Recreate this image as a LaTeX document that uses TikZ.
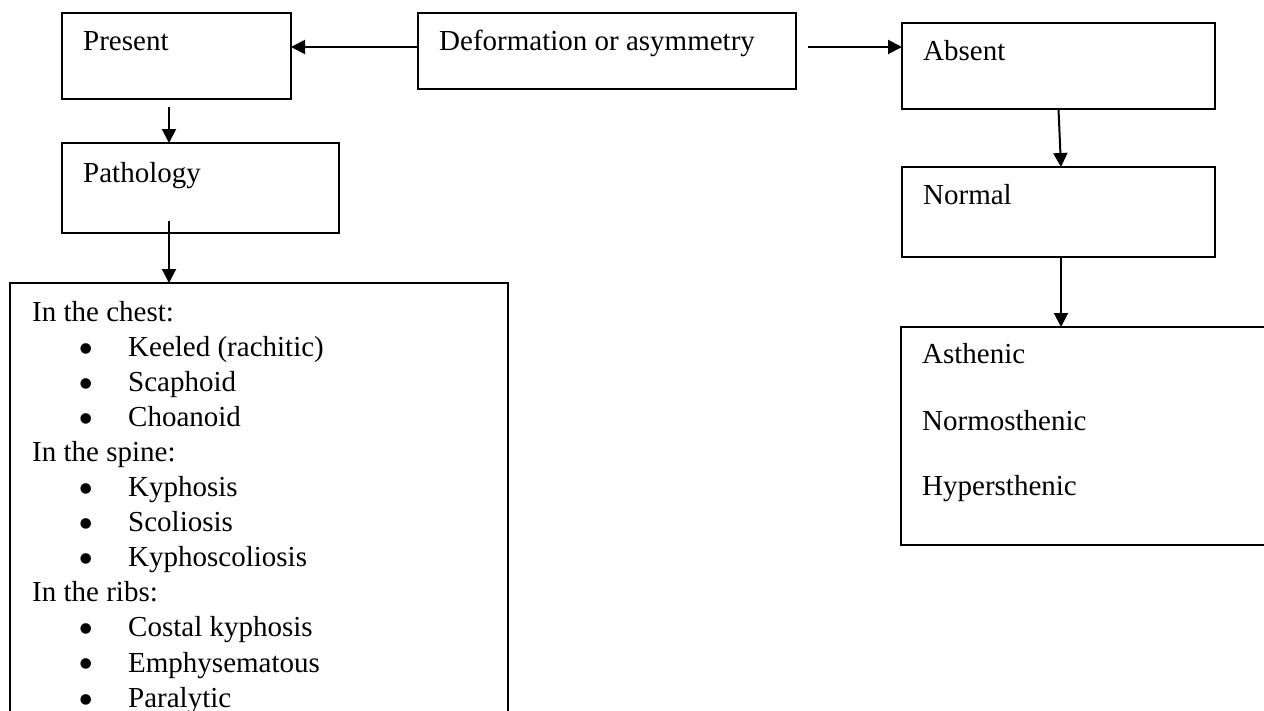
\documentclass[tikz,border=0pt]{standalone}
\usepackage{fontspec}
\setmainfont{Liberation Serif}
\usetikzlibrary{arrows.meta}
\begin{document}
\begin{tikzpicture}[x=1pt,y=-1pt,
  box/.style={draw, line width=1.8pt, inner sep=0pt, outer sep=0pt, anchor=north west},
  txt/.style={anchor=base west, inner sep=0pt, font=\fontsize{29}{35}\selectfont},
  bul/.style={anchor=north, inner sep=0pt, font=\fontsize{44}{44}\selectfont},
  arr/.style={line width=2pt, -{Triangle[length=14pt,width=14pt]}}]
\useasboundingbox (0,0) rectangle (1264,710);
\clip (0,0) rectangle (1264,710);
% boxes
\node[box, minimum width=229pt, minimum height=86pt] (present) at (62,13) {};
\node[box, minimum width=378pt, minimum height=76pt] (deform) at (418,13) {};
\node[box, minimum width=313pt, minimum height=86pt] (absent) at (902,23) {};
\node[box, minimum width=277pt, minimum height=90pt] (path) at (62,143) {};
\node[box, minimum width=313pt, minimum height=90pt] (normal) at (902,167) {};
\node[box, minimum width=498pt, minimum height=500pt] (list) at (10,283) {};
\node[box, minimum width=400pt, minimum height=218pt] (asth) at (901,327) {};
% box texts
\node[txt] (present-t) at (83,50) {Present};
\node[txt] (deform-t) at (439,50) {Deformation or asymmetry};
\node[txt] (absent-t) at (923,60) {Absent};
\node[txt] (path-t) at (83,182) {Pathology};
\node[txt] (normal-t) at (923,204) {Normal};
\node[txt] (asth-a) at (922,363) {Asthenic};
\node[txt] (asth-n) at (922,430) {Normosthenic};
\node[txt] (asth-h) at (922,495) {Hypersthenic};
% list
\node[txt] (h1) at (32,321.0) {In the chest:};
\node[bul] (b1) at (86,343.0) {\textbullet};
\node[txt] (i1) at (128,356.1) {Keeled (rachitic)};
\node[bul] (b2) at (86,378.1) {\textbullet};
\node[txt] (i2) at (128,391.2) {Scaphoid};
\node[bul] (b3) at (86,413.2) {\textbullet};
\node[txt] (i3) at (128,426.3) {Choanoid};
\node[txt] (h2) at (32,461.4) {In the spine:};
\node[bul] (b4) at (86,483.4) {\textbullet};
\node[txt] (i4) at (128,496.5) {Kyphosis};
\node[bul] (b5) at (86,518.5) {\textbullet};
\node[txt] (i5) at (128,531.6) {Scoliosis};
\node[bul] (b6) at (86,553.6) {\textbullet};
\node[txt] (i6) at (128,566.7) {Kyphoscoliosis};
\node[txt] (h3) at (32,601.8) {In the ribs:};
\node[bul] (b7) at (86,623.8) {\textbullet};
\node[txt] (i7) at (128,636.9) {Costal kyphosis};
\node[bul] (b8) at (86,658.9) {\textbullet};
\node[txt] (i8) at (128,672.0) {Emphysematous};
\node[bul] (b9) at (86,694.0) {\textbullet};
\node[txt] (i9) at (128,707.1) {Paralytic};
% connectors
\coordinate (dl) at ([yshift=4pt]deform.west);
\draw[arr] (dl) -- (dl -| present.east);
\coordinate (dr) at ([shift={(12pt,4pt)}]deform.east);
\draw[arr] (dr) -- (dr -| absent.west);
\coordinate (pd) at ([shift={(-7.5pt,-8pt)}]present.south);
\draw[arr] (pd) -- (pd |- path.north);
\coordinate (ld) at ([shift={(-31.5pt,12pt)}]path.south);
\draw[arr] (ld) -- (ld |- list.north);
\draw[arr] (absent.south) -- ([xshift=2.5pt]normal.north);
\coordinate (nd) at ([xshift=2.5pt]normal.south);
\draw[arr] (nd) -- (nd |- asth.north);
\end{tikzpicture}
\end{document}
